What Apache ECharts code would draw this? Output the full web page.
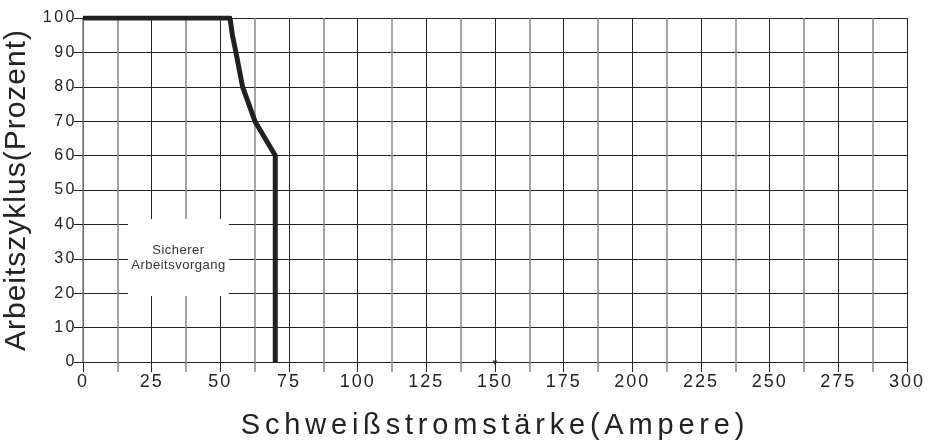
<!DOCTYPE html>
<html>
<head>
<meta charset="utf-8">
<script src="https://cdn.jsdelivr.net/npm/echarts@6/dist/echarts.min.js"></script>
<style>html,body{margin:0;padding:0;background:#fff}#c{width:929px;height:447px}</style>
</head>
<body>
<div id="c"></div>
<script>
// Data
const curveCurrent = [0, 53.5, 54.4, 55.7, 58.1, 62.6, 70, 70];
const curveDuty    = [100, 100, 95, 90, 80, 70, 60, 0];
const xTicks = [0, 25, 50, 75, 100, 125, 150, 175, 200, 225, 250, 275, 300];
const yTicks = [0, 10, 20, 30, 40, 50, 60, 70, 80, 90, 100];
const smallMarkers = [[150, 0]];
const safeZone = { x: [16.4, 53.1], y: [19.2, 41.6], text: 'Sicherer\nArbeitsvorgang' };
const xTitle = 'Schweißstromstärke(Ampere)';
const yTitle = 'Arbeitszyklus(Prozent)';

// letter spacing by font size (reference text is tracked out)
(function () {
  const P = CanvasRenderingContext2D.prototype;
  const sp = { 13: 0.5, 16: 2.5, 18: 2, 29: 4.8, 30: 1 };
  function apply(ctx) {
    const m = /(\d+(?:\.\d+)?)px/.exec(ctx.font);
    const s = m ? (sp[Math.round(+m[1])] || 0) : 0;
    if ('letterSpacing' in ctx) ctx.letterSpacing = s + 'px';
  }
  ['fillText', 'strokeText', 'measureText'].forEach(function (n) {
    const o = P[n];
    P[n] = function () { apply(this); return o.apply(this, arguments); };
  });
})();

const font = 'Liberation Sans, Arial, Helvetica, sans-serif';
const chart = echarts.init(document.getElementById('c'), null, { renderer: 'canvas' });
chart.setOption({
  animation: false,
  backgroundColor: '#fff',
  grid: { left: 83, right: 22, top: 18, bottom: 85, containLabel: false, outerBoundsMode: 'none' },
  xAxis: {
    type: 'value',
    min: xTicks[0], max: xTicks[xTicks.length - 1], interval: 25,
    name: xTitle, nameLocation: 'middle', nameGap: 47,
    nameTextStyle: { fontSize: 29, color: '#222', fontFamily: font },
    axisLine: { show: true, onZero: false, lineStyle: { color: '#222', width: 1 } },
    axisTick: { show: true, length: 10, lineStyle: { color: '#222', width: 1 } },
    minorTick: { show: true, splitNumber: 2, length: 10, lineStyle: { color: '#888', width: 1.5 } },
    axisLabel: { fontSize: 18, color: '#222', margin: 10, fontFamily: font },
    splitLine: { show: true, lineStyle: { color: '#222', width: 1 } },
    minorSplitLine: { show: true, lineStyle: { color: '#888', width: 1.5 } }
  },
  yAxis: {
    type: 'value',
    min: yTicks[0], max: yTicks[yTicks.length - 1], interval: 10,
    name: yTitle, nameLocation: 'middle', nameGap: 46, nameRotate: 90,
    nameTextStyle: { fontSize: 30, color: '#222', fontFamily: font },
    axisLine: { show: true, lineStyle: { color: '#888', width: 1.5 } },
    axisTick: { show: true, length: 9, lineStyle: { color: '#222', width: 1 } },
    axisLabel: { fontSize: 16, color: '#222', margin: 6, fontFamily: font },
    splitLine: { show: true, lineStyle: { color: '#222', width: 1 } }
  },
  series: [{
    type: 'line',
    data: curveCurrent.map(function (x, i) { return [x, curveDuty[i]]; }),
    showSymbol: false,
    symbol: 'none',
    lineStyle: { color: '#231f20', width: 5, cap: 'butt', join: 'round' },
    z: 5,
    markArea: {
      silent: true,
      itemStyle: { color: '#fff', opacity: 1 },
      label: {
        show: true, position: 'inside', color: '#333', fontSize: 13,
        lineHeight: 15, fontFamily: font, align: 'center', verticalAlign: 'middle'
      },
      data: [[
        { name: safeZone.text, coord: [safeZone.x[0], safeZone.y[1]] },
        { coord: [safeZone.x[1], safeZone.y[0]] }
      ]]
    }
  }, {
    type: 'scatter',
    data: smallMarkers,
    symbol: 'triangle',
    symbolRotate: 180,
    symbolSize: 5,
    symbolOffset: [0, 1],
    itemStyle: { color: '#222' },
    silent: true,
    z: 6
  }]
});
</script>
</body>
</html>
